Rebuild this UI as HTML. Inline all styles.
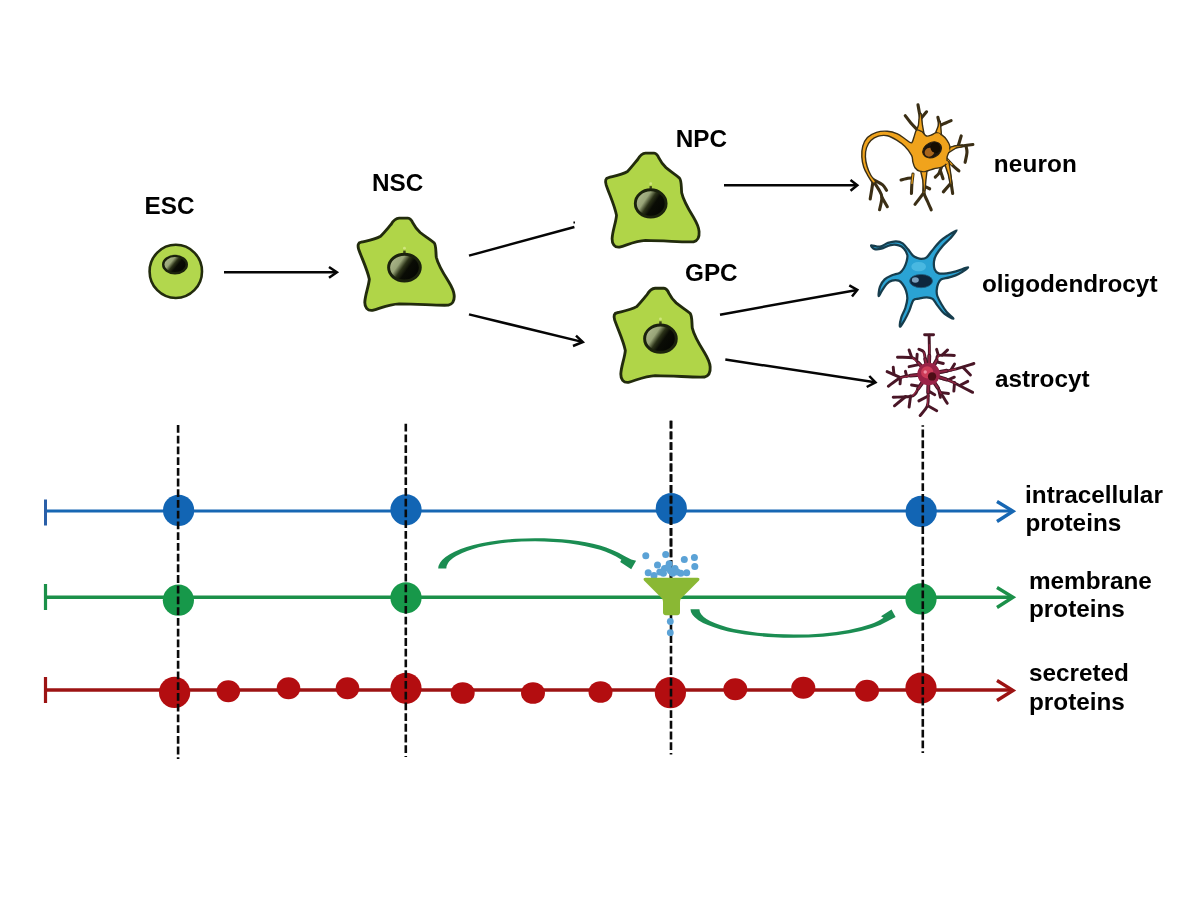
<!DOCTYPE html>
<html>
<head>
<meta charset="utf-8">
<style>
html,body{margin:0;padding:0;background:#fff;}
body{width:1200px;height:900px;overflow:hidden;font-family:"Liberation Sans",sans-serif;}
svg{display:block;position:absolute;left:0;top:0;}
text{font-family:"Liberation Sans",sans-serif;font-weight:bold;font-size:24.3px;fill:#000;}
</style>
</head>
<body>
<svg width="1200" height="900" viewBox="0 0 1200 900">
<defs>
  <radialGradient id="nuc" cx="0.66" cy="0.62" r="0.7">
    <stop offset="0" stop-color="#0a0d06"/>
    <stop offset="0.45" stop-color="#1c2312"/>
    <stop offset="0.8" stop-color="#6f7d55"/>
    <stop offset="1" stop-color="#8a9a60"/>
  </radialGradient>
  <filter id="soft" x="-5%" y="-5%" width="110%" height="110%"><feGaussianBlur stdDeviation="0.35"/></filter>
  <linearGradient id="nuc2" x1="0" y1="0.15" x2="1" y2="0.75">
    <stop offset="0" stop-color="#b3bd92"/>
    <stop offset="0.33" stop-color="#98a478"/>
    <stop offset="0.48" stop-color="#2b3218"/>
    <stop offset="0.62" stop-color="#0a0c05"/>
    <stop offset="1" stop-color="#040503"/>
  </linearGradient>
  <g id="cell">
    <!-- star-ish cell, local coords relative to NSC absolute position -->
    <path d="M398,219 L406.5,219 C409.5,219.3 410.5,221.5 411.5,224 C413.5,228 415.5,230.5 418.5,233.3 C423,237 428,240 432,243.5 C434.2,246 433.6,252 434.2,258 C436,266 441,274 446,282 C449,287 451.3,291 451.6,296 C452,301 450,305 446,306 C436,306.5 420,305 398,304.6 C388,305 380,309 372,311.2 C367,311.8 364.5,308 364.6,303 C365,295 368.5,287 369,280 C367,270 362,260 358.6,250 C357.5,246 358,243.6 361,243 C367,241.5 374,240.5 380,237 C384,233 387,229 390,225.5 C392,222 394,219.2 398,219 Z" fill="#b0d548" stroke="#222b0d" stroke-width="2.8" stroke-linejoin="round"/>
    <circle cx="403.2" cy="249" r="1.4" fill="#cfe67c"/><rect x="402" y="251.4" width="2.4" height="2.6" fill="#3a4418"/><ellipse cx="403.2" cy="268.4" rx="15.4" ry="13.4" fill="url(#nuc2)" stroke="#1b220d" stroke-width="2.9"/>
    
  </g>
</defs>
<rect width="1200" height="900" fill="#ffffff"/>


<!-- blue line -->
<g stroke="#1767b3" fill="none" stroke-width="3.1">
  <line x1="45.5" y1="511" x2="1011" y2="511"/>
  <line x1="45.5" y1="499.5" x2="45.5" y2="525.5" stroke="#2a5fa8" stroke-width="3"/>
  <polyline points="997,501.5 1013,511.2 997,521.5" stroke-width="3.4" stroke-linejoin="miter"/>
</g>
<g fill="#1265b4">
  <circle cx="178.6" cy="510.4" r="15.6"/>
  <circle cx="406" cy="509.8" r="15.6"/>
  <circle cx="671.3" cy="508.5" r="15.6"/>
  <circle cx="921.2" cy="511.4" r="15.6"/>
</g>

<!-- green line -->
<g stroke="#1b9049" fill="none" stroke-width="3.6">
  <line x1="45.5" y1="597.2" x2="1011" y2="597.2"/>
  <line x1="45.5" y1="584" x2="45.5" y2="610" stroke-width="3.2"/>
  <polyline points="997,587.5 1013,597.3 997,607.5" stroke-width="3.4"/>
</g>
<g fill="#17984a">
  <circle cx="178.4" cy="600.2" r="15.6"/>
  <circle cx="406" cy="597.8" r="15.6"/>
  <circle cx="921" cy="598.9" r="15.6"/>
</g>

<!-- red line -->
<g stroke="#9c1313" fill="none" stroke-width="3.6">
  <line x1="45.5" y1="690" x2="1011" y2="690"/>
  <line x1="45.5" y1="677" x2="45.5" y2="703" stroke-width="3.2"/>
  <polyline points="997,680.5 1013,690.4 997,700.5" stroke-width="3.4"/>
</g>
<g fill="#b30d10">
  <circle cx="174.6" cy="692.4" r="15.6"/>
  <circle cx="406" cy="688.3" r="15.6"/>
  <circle cx="670.4" cy="692.6" r="15.6"/>
  <circle cx="921" cy="688" r="15.6"/>
  <ellipse cx="228.3" cy="691.3" rx="11.8" ry="11"/>
  <ellipse cx="288.5" cy="688.2" rx="11.8" ry="11"/>
  <ellipse cx="347.5" cy="688.2" rx="11.8" ry="11"/>
  <ellipse cx="462.7" cy="693" rx="12" ry="10.8"/>
  <ellipse cx="533" cy="693" rx="12" ry="10.8"/>
  <ellipse cx="600.5" cy="692" rx="12" ry="10.8"/>
  <ellipse cx="735.3" cy="689.3" rx="12" ry="11"/>
  <ellipse cx="803.3" cy="687.8" rx="12" ry="11"/>
  <ellipse cx="867" cy="690.7" rx="12" ry="11"/>
</g>

<!-- dashed verticals -->
<g stroke="#0a0a0a" stroke-width="2.6" stroke-dasharray="7.8 2.92" fill="none">
  <line x1="178.1" y1="425" x2="178.1" y2="759"/>
  <line x1="405.8" y1="423.7" x2="405.8" y2="757"/>
  <line x1="671" y1="420.7" x2="671" y2="754.5"/>
  <line x1="922.8" y1="425.2" x2="922.8" y2="753" stroke-dashoffset="6.3"/>
</g>

<g opacity="0.999">
<!-- right labels -->
<text x="1025.1" y="503">intracellular</text>
<text x="1025.4" y="531">proteins</text>
<text x="1029" y="588.8">membrane</text>
<text x="1029" y="616.8">proteins</text>
<text x="1029" y="681.3">secreted</text>
<text x="1029" y="709.8">proteins</text>

<!-- top labels -->
<text x="144.5" y="214">ESC</text>
<text x="372" y="191">NSC</text>
<text x="675.7" y="147">NPC</text>
<text x="685" y="281">GPC</text>
<text x="993.8" y="171.7" letter-spacing="0.15">neuron</text>
<text x="982" y="292">oligodendrocyt</text>
<text x="995" y="387">astrocyt</text>
</g>

<!-- ESC cell -->
<g>
  <ellipse cx="175.8" cy="271.4" rx="26.2" ry="26.6" fill="#b2d74d" stroke="#222b0d" stroke-width="2.6"/>
  <ellipse cx="175" cy="264.6" rx="11.8" ry="8.7" fill="url(#nuc2)" stroke="#1b220d" stroke-width="2.4"/>
  
</g>
<use href="#cell" transform="translate(357,-0.8) scale(1.027,1) translate(-357,0)"/>
<use href="#cell" transform="translate(247.5,-65) translate(0,265) scale(1,1.02) translate(0,-265)"/>
<use href="#cell" transform="translate(256,70.2) translate(357,265) scale(1.027,1.02) translate(-357,-265)"/>

<g stroke="#050505" stroke-width="2.5" fill="none" stroke-linecap="butt" stroke-linejoin="miter">
  <line x1="224" y1="272.3" x2="336.5" y2="272.3"/>
  <polyline points="329,267 336.9,272.3 329,277.8"/>
  <line x1="469" y1="255.6" x2="574.4" y2="227"/>
  <line x1="574.2" y1="221.5" x2="574.2" y2="223.5" stroke-width="1.6"/>
  <line x1="469" y1="314.4" x2="582.2" y2="341.9"/>
  <polyline points="576,335.6 582.8,342 573,346"/>
  <line x1="724" y1="185.3" x2="857" y2="185.3"/>
  <polyline points="850.5,180 857.3,185.3 850.5,190.7"/>
  <line x1="720" y1="314.7" x2="857" y2="289.9"/>
  <polyline points="849.3,285.3 857.3,289.8 852,296.5"/>
  <line x1="725.3" y1="359.5" x2="875" y2="382.3"/>
  <polyline points="869.3,376 875.5,382.4 866.7,387"/>
</g>

<!-- curved green arrows -->
<g fill="#1b8d52" stroke="none">
  <path d="M438.2,568.6 A96.8,30.4 0 0 1 535,538.2 C560,538.2 582,540.5 600,545.5 C608,547.8 617,551.5 624.4,555.9 L631.2,559.6 L636.1,560.8 L631.2,569.3 L620.2,562 L621.4,559.8 C614,555.2 608,552.2 600,549.8 C582,544.5 560,541.3 535,541.2 A88.7,27.4 0 0 0 446.3,568.6 Z"/>
  <path d="M690.5,609.2 A103.2,28.6 0 0 0 793.7,637.8 A103.5,28.6 0 0 0 888,621 L895.6,617 L891.5,609.4 L881,616.3 L883.5,617.7 A95,25.4 0 0 1 793.7,634.6 A94.5,25.4 0 0 1 699.4,609.2 Z"/>
</g>
<!-- funnel -->
<g stroke="#0a0a0a" stroke-width="2.6" stroke-dasharray="7.8 2.92" fill="none"><line x1="671" y1="420.7" x2="671" y2="580"/></g>
<g fill="#5ba2d6"><circle cx="645.8" cy="555.7" r="3.5"/><circle cx="665.7" cy="554.5" r="3.5"/><circle cx="694.4" cy="557.5" r="3.5"/><circle cx="684.3" cy="559.6" r="3.5"/><circle cx="657.5" cy="565" r="3.5"/><circle cx="669.2" cy="563.8" r="3.5"/><circle cx="694.8" cy="566.6" r="3.5"/><circle cx="648.2" cy="572.7" r="3.5"/><circle cx="659.8" cy="572" r="3.5"/><circle cx="664.5" cy="568.5" r="3.5"/><circle cx="675" cy="568.5" r="3.5"/><circle cx="672.7" cy="573.2" r="3.5"/><circle cx="680.8" cy="573.2" r="3.5"/><circle cx="686.7" cy="572.7" r="3.5"/><circle cx="654" cy="575.5" r="3.5"/><circle cx="668" cy="567.3" r="3.5"/><circle cx="673.9" cy="570.8" r="3.5"/><circle cx="663.4" cy="573.2" r="3.5"/><circle cx="677.3" cy="572" r="3.5"/><circle cx="670.4" cy="570.8" r="3.5"/></g>
<path d="M645.5,577.8 L697.5,577.8 Q700.4,578 699,580.6 L681,598.6 Q680,600 680,602 L680,612.6 Q679.8,615.2 677.2,615.2 L665.8,615.2 Q663.2,615.2 663,612.6 L663,602 Q663,600 662,598.6 L644,580.6 Q642.6,578 645.5,577.8 Z" fill="#8ab834"/>
<g fill="#5ba2d6"><circle cx="670.3" cy="621.5" r="3.4"/><circle cx="670.3" cy="632.7" r="3.4"/></g>

<g filter="url(#soft)">
<!--NEURONS_START-->
<g transform="translate(850,90) scale(0.15556)">
<g fill="none" stroke="#3a2f14" stroke-width="20" stroke-linecap="round" stroke-linejoin="round">
<path d="M445.0,285.0 C446.7,270.8 455.0,224.2 455.0,200.0 C455.0,175.8 448.0,157.5 445.0,140.0 C442.0,122.5 438.3,102.5 437.0,95.0 "/>
<path d="M452.0,188.0 L492.0,140.0"/>
<path d="M432.0,255.0 C425.0,247.5 402.8,225.0 390.0,210.0 C377.2,195.0 360.8,172.5 355.0,165.0 "/>
<path d="M560.0,280.0 C562.5,271.7 574.2,247.5 575.0,230.0 C575.8,212.5 566.7,184.2 565.0,175.0 "/>
<path d="M578.0,228.0 C584.2,225.3 603.0,217.2 615.0,212.0 C627.0,206.8 644.2,199.5 650.0,197.0 "/>
<path d="M628.0,385.0 C636.7,381.7 664.7,369.2 680.0,365.0 C695.3,360.8 701.7,362.5 720.0,360.0 C738.3,357.5 778.3,351.7 790.0,350.0 "/>
<path d="M695.0,362.0 L715.0,295.0"/>
<path d="M745.0,358.0 C746.2,365.0 752.8,382.2 752.0,400.0 C751.2,417.8 742.0,454.2 740.0,465.0 "/>
<path d="M618.0,440.0 C625.0,447.5 646.3,471.7 660.0,485.0 C673.7,498.3 693.3,514.2 700.0,520.0 "/>
<path d="M622.0,470.0 C625.0,481.7 635.3,518.3 640.0,540.0 C644.7,561.7 646.7,579.2 650.0,600.0 C653.3,620.8 658.3,654.2 660.0,665.0 "/>
<path d="M648.0,600.0 L600.0,655.0"/>
<path d="M588.0,495.0 C585.3,501.7 578.7,524.2 572.0,535.0 C565.3,545.8 552.0,555.8 548.0,560.0 "/>
<path d="M580.0,515.0 L598.0,570.0"/>
<path d="M470.0,515.0 C471.3,529.2 477.2,575.8 478.0,600.0 C478.8,624.2 471.3,640.0 475.0,660.0 C478.7,680.0 492.2,701.7 500.0,720.0 C507.8,738.3 518.3,761.7 522.0,770.0 "/>
<path d="M475.0,660.0 C470.0,666.7 454.5,687.5 445.0,700.0 C435.5,712.5 422.5,729.2 418.0,735.0 "/>
<path d="M480.0,620.0 L512.0,635.0"/>
<path d="M405.0,540.0 C403.8,550.0 399.7,579.2 398.0,600.0 C396.3,620.8 395.5,654.2 395.0,665.0 "/>
<path d="M400.0,565.0 C393.3,565.8 372.0,567.8 360.0,570.0 C348.0,572.2 333.3,576.7 328.0,578.0 "/>
<path d="M148.0,585.0 C146.7,594.2 143.0,620.8 140.0,640.0 C137.0,659.2 131.7,690.0 130.0,700.0 "/>
<path d="M150.0,585.0 C155.8,594.2 175.8,622.5 185.0,640.0 C194.2,657.5 204.2,668.3 205.0,690.0 C205.8,711.7 192.5,756.7 190.0,770.0 "/>
<path d="M205.0,690.0 L240.0,750.0"/>
<path d="M158.0,580.0 C166.7,585.0 197.2,599.2 210.0,610.0 C222.8,620.8 230.8,639.2 235.0,645.0 "/>
</g>
<g fill="none" stroke="#f0a31c" stroke-width="8" stroke-linecap="round">
<path d="M445.0,290.0 C446.7,275.8 454.5,228.3 455.0,205.0 C455.5,181.7 449.2,159.2 448.0,150.0 "/>
<path d="M560.0,285.0 L574.0,235.0"/>
<path d="M628.0,385.0 L690.0,364.0"/>
<path d="M622.0,470.0 C625.0,481.7 635.3,518.3 640.0,540.0 C644.7,561.7 648.3,590.0 650.0,600.0 "/>
<path d="M470.0,515.0 C471.3,529.2 477.2,576.7 478.0,600.0 C478.8,623.3 475.5,645.8 475.0,655.0 "/>
<path d="M405.0,540.0 L398.0,600.0"/>
<path d="M618.0,440.0 L655.0,480.0"/>
</g>
<polygon points="422,278 440,225 447,150 457,150 466,228 476,282" fill="#f0a31c" stroke="#3a2f14" stroke-width="9" stroke-linejoin="round"/>
<polygon points="545,288 566,235 572,200 580,200 584,240 588,292" fill="#f0a31c" stroke="#3a2f14" stroke-width="9" stroke-linejoin="round"/>
<polygon points="452,512 468,580 472,650 482,650 488,580 496,512" fill="#f0a31c" stroke="#3a2f14" stroke-width="9" stroke-linejoin="round"/>
<polygon points="606,468 632,545 645,610 656,608 648,540 636,460" fill="#f0a31c" stroke="#3a2f14" stroke-width="9" stroke-linejoin="round"/>
<polygon points="628,372 680,358 722,354 722,364 682,373 634,402" fill="#f0a31c" stroke="#3a2f14" stroke-width="9" stroke-linejoin="round"/>
<path d="M146.0,596.0 C137.3,588.8 121.7,561.8 112.0,545.0 C102.3,528.2 94.0,514.2 88.0,495.0 C82.0,475.8 77.0,452.2 76.0,430.0 C75.0,407.8 76.0,382.7 82.0,362.0 C88.0,341.3 97.3,321.0 112.0,306.0 C126.7,291.0 148.7,278.8 170.0,272.0 C191.3,265.2 217.5,263.3 240.0,265.0 C262.5,266.7 285.8,273.7 305.0,282.0 C324.2,290.3 340.0,305.3 355.0,315.0 C370.0,324.7 385.5,342.5 395.0,340.0 C404.5,337.5 406.5,313.7 412.0,300.0 C417.5,286.3 419.7,263.3 428.0,258.0 C436.3,252.7 451.3,261.7 462.0,268.0 C472.7,274.3 480.7,293.0 492.0,296.0 C503.3,299.0 519.3,289.7 530.0,286.0 C540.7,282.3 545.7,273.3 556.0,274.0 C566.3,274.7 581.0,282.3 592.0,290.0 C603.0,297.7 613.7,308.0 622.0,320.0 C630.3,332.0 639.7,349.0 642.0,362.0 C644.3,375.0 639.0,386.3 636.0,398.0 C633.0,409.7 626.3,419.7 624.0,432.0 C621.7,444.3 627.7,461.3 622.0,472.0 C616.3,482.7 603.7,490.3 590.0,496.0 C576.3,501.7 556.7,501.7 540.0,506.0 C523.3,510.3 505.3,519.3 490.0,522.0 C474.7,524.7 460.0,525.7 448.0,522.0 C436.0,518.3 425.3,510.0 418.0,500.0 C410.7,490.0 407.7,475.3 404.0,462.0 C400.3,448.7 404.7,436.7 396.0,420.0 C387.3,403.3 368.0,378.3 352.0,362.0 C336.0,345.7 318.7,333.3 300.0,322.0 C281.3,310.7 259.7,298.2 240.0,294.0 C220.3,289.8 199.7,291.8 182.0,297.0 C164.3,302.2 146.7,312.5 134.0,325.0 C121.3,337.5 111.8,354.5 106.0,372.0 C100.2,389.5 98.3,410.0 99.0,430.0 C99.7,450.0 104.2,472.3 110.0,492.0 C115.8,511.7 125.0,532.0 134.0,548.0 C143.0,564.0 162.0,580.0 164.0,588.0 C166.0,596.0 154.7,603.2 146.0,596.0 Z" fill="#f0a31c" stroke="#3a2f14" stroke-width="9" stroke-linejoin="round"/>
<ellipse cx="449" cy="282" rx="17" ry="12" fill="#f0a31c"/>
<ellipse cx="567" cy="288" rx="13" ry="10" fill="#f0a31c"/>
<ellipse cx="474" cy="512" rx="14" ry="10" fill="#f0a31c"/>
<ellipse cx="621" cy="466" rx="9" ry="9" fill="#f0a31c"/>
<ellipse cx="632" cy="387" rx="8" ry="11" fill="#f0a31c"/>
<g transform="rotate(-28 528 385)"><ellipse cx="528" cy="385" rx="64" ry="48" fill="#1f1608" stroke="#2a2010" stroke-width="6"/><ellipse cx="506" cy="390" rx="32" ry="28" fill="#a8651a"/><ellipse cx="552" cy="382" rx="30" ry="34" fill="#120c05"/></g>
</g>
<g transform="translate(860,220) scale(0.13333)">
<path d="M85.0,190.0 C91.7,187.0 129.2,203.0 150.0,200.0 C170.8,197.0 190.0,178.7 210.0,172.0 C230.0,165.3 251.7,159.5 270.0,160.0 C288.3,160.5 305.0,165.0 320.0,175.0 C335.0,185.0 347.5,205.0 360.0,220.0 C372.5,235.0 383.3,254.2 395.0,265.0 C406.7,275.8 419.2,280.5 430.0,285.0 C440.8,289.5 448.3,292.8 460.0,292.0 C471.7,291.2 486.7,290.3 500.0,280.0 C513.3,269.7 523.3,250.0 540.0,230.0 C556.7,210.0 580.0,179.2 600.0,160.0 C620.0,140.8 639.2,128.7 660.0,115.0 C680.8,101.3 721.7,74.7 725.0,78.0 C728.3,81.3 697.5,115.5 680.0,135.0 C662.5,154.5 638.0,174.2 620.0,195.0 C602.0,215.8 582.8,240.8 572.0,260.0 C561.2,279.2 557.0,291.7 555.0,310.0 C553.0,328.3 554.2,355.0 560.0,370.0 C565.8,385.0 575.0,395.0 590.0,400.0 C605.0,405.0 628.3,402.5 650.0,400.0 C671.7,397.5 693.3,392.5 720.0,385.0 C746.7,377.5 806.7,351.7 810.0,355.0 C813.3,358.3 763.3,392.5 740.0,405.0 C716.7,417.5 691.7,423.3 670.0,430.0 C648.3,436.7 624.2,436.7 610.0,445.0 C595.8,453.3 590.8,465.8 585.0,480.0 C579.2,494.2 575.8,515.0 575.0,530.0 C574.2,545.0 574.2,553.3 580.0,570.0 C585.8,586.7 598.3,610.0 610.0,630.0 C621.7,650.0 635.0,671.7 650.0,690.0 C665.0,708.3 703.3,738.3 700.0,740.0 C696.7,741.7 650.0,716.7 630.0,700.0 C610.0,683.3 594.2,658.0 580.0,640.0 C565.8,622.0 558.3,602.0 545.0,592.0 C531.7,582.0 517.5,580.3 500.0,580.0 C482.5,579.7 456.7,586.3 440.0,590.0 C423.3,593.7 411.7,587.0 400.0,602.0 C388.3,617.0 380.8,655.3 370.0,680.0 C359.2,704.7 346.7,730.0 335.0,750.0 C323.3,770.0 304.2,803.3 300.0,800.0 C295.8,796.7 303.3,753.3 310.0,730.0 C316.7,706.7 332.5,683.3 340.0,660.0 C347.5,636.7 354.2,611.7 355.0,590.0 C355.8,568.3 350.8,548.0 345.0,530.0 C339.2,512.0 329.2,494.5 320.0,482.0 C310.8,469.5 303.3,459.5 290.0,455.0 C276.7,450.5 255.0,450.8 240.0,455.0 C225.0,459.2 212.5,467.5 200.0,480.0 C187.5,492.5 175.0,515.0 165.0,530.0 C155.0,545.0 142.5,575.0 140.0,570.0 C137.5,565.0 142.5,520.8 150.0,500.0 C157.5,479.2 170.0,459.2 185.0,445.0 C200.0,430.8 220.8,423.3 240.0,415.0 C259.2,406.7 285.0,404.2 300.0,395.0 C315.0,385.8 321.7,374.2 330.0,360.0 C338.3,345.8 345.8,326.3 350.0,310.0 C354.2,293.7 358.3,277.8 355.0,262.0 C351.7,246.2 340.8,227.0 330.0,215.0 C319.2,203.0 306.7,194.5 290.0,190.0 C273.3,185.5 251.7,183.8 230.0,188.0 C208.3,192.2 180.0,210.0 160.0,215.0 C140.0,220.0 122.5,222.2 110.0,218.0 C97.5,213.8 78.3,193.0 85.0,190.0 Z" fill="#2ca3d4" stroke="#183e4e" stroke-width="17" stroke-linejoin="round"/>
<ellipse cx="440" cy="350" rx="55" ry="35" fill="#5fc6ea" opacity="0.6"/>
<ellipse cx="458" cy="458" rx="86" ry="50" fill="#11263c" stroke="#1d5a7a" stroke-width="6"/>
<ellipse cx="415" cy="450" rx="26" ry="20" fill="#8fb6d4" opacity="0.85"/>
</g>
<g transform="translate(870,320) scale(0.12220)">
<g fill="none" stroke="#4a1728" stroke-width="24" stroke-linecap="round" stroke-linejoin="round">
<path d="M482.0,400.0 C482.7,376.7 485.7,305.8 486.0,260.0 C486.3,214.2 484.3,147.5 484.0,125.0 "/>
<path d="M447.0,121.0 L520.0,121.0"/>
<path d="M440.0,400.0 C432.5,391.7 410.0,365.0 395.0,350.0 C380.0,335.0 378.3,317.5 350.0,310.0 C321.7,302.5 245.8,305.8 225.0,305.0 "/>
<path d="M340.0,302.0 L320.0,245.0"/>
<path d="M382.0,332.0 L386.0,280.0"/>
<path d="M400.0,365.0 L320.0,382.0"/>
<path d="M462.0,385.0 C460.3,374.2 455.7,340.5 452.0,320.0 C448.3,299.5 448.7,275.3 440.0,262.0 C431.3,248.7 406.7,243.7 400.0,240.0 "/>
<path d="M520.0,392.0 C524.2,381.7 538.0,347.0 545.0,330.0 C552.0,313.0 537.8,296.7 562.0,290.0 C586.2,283.3 668.7,290.0 690.0,290.0 "/>
<path d="M560.0,292.0 L545.0,240.0"/>
<path d="M590.0,287.0 L635.0,245.0"/>
<path d="M540.0,342.0 L600.0,356.0"/>
<path d="M560.0,432.0 C583.3,427.0 651.7,414.7 700.0,402.0 C748.3,389.3 825.0,363.7 850.0,356.0 "/>
<path d="M762.0,388.0 L822.0,450.0"/>
<path d="M662.0,410.0 L692.0,360.0"/>
<path d="M560.0,470.0 C573.3,473.7 616.7,483.7 640.0,492.0 C663.3,500.3 666.7,503.3 700.0,520.0 C733.3,536.7 816.7,580.0 840.0,592.0 "/>
<path d="M742.0,532.0 L800.0,502.0"/>
<path d="M692.0,512.0 L686.0,582.0"/>
<path d="M640.0,490.0 L690.0,468.0"/>
<path d="M520.0,500.0 C525.8,509.2 544.7,538.0 555.0,555.0 C565.3,572.0 569.2,580.8 582.0,602.0 C594.8,623.2 623.7,668.7 632.0,682.0 "/>
<path d="M572.0,592.0 L642.0,602.0"/>
<path d="M560.0,560.0 L576.0,632.0"/>
<path d="M480.0,500.0 C479.3,516.7 477.7,566.7 476.0,600.0 C474.3,633.3 481.0,669.7 470.0,700.0 C459.0,730.3 420.0,768.3 410.0,782.0 "/>
<path d="M470.0,700.0 L546.0,742.0"/>
<path d="M476.0,622.0 L400.0,662.0"/>
<path d="M480.0,582.0 L530.0,612.0"/>
<path d="M440.0,492.0 C432.5,503.3 410.0,538.7 395.0,560.0 C380.0,581.3 384.2,608.0 350.0,620.0 C315.8,632.0 216.7,630.0 190.0,632.0 "/>
<path d="M292.0,626.0 L200.0,702.0"/>
<path d="M332.0,622.0 L320.0,712.0"/>
<path d="M402.0,542.0 L340.0,532.0"/>
<path d="M420.0,442.0 C405.0,444.2 358.3,450.0 330.0,455.0 C301.7,460.0 280.0,457.5 250.0,472.0 C220.0,486.5 166.7,530.3 150.0,542.0 "/>
<path d="M250.0,472.0 L140.0,422.0"/>
<path d="M196.0,446.0 L190.0,386.0"/>
<path d="M250.0,472.0 L246.0,522.0"/>
<path d="M300.0,460.0 L290.0,420.0"/>
</g>
<g fill="none" stroke="#9a2644" stroke-width="9" stroke-linecap="round" stroke-linejoin="round">
<path d="M482.0,400.0 C482.7,376.7 485.5,293.3 486.0,260.0 C486.5,226.7 485.2,210.0 485.0,200.0 "/>
<path d="M440.0,400.0 C432.5,391.7 410.0,365.0 395.0,350.0 C380.0,335.0 357.5,316.7 350.0,310.0 "/>
<path d="M462.0,385.0 C460.3,374.2 455.7,340.5 452.0,320.0 C448.3,299.5 442.0,271.7 440.0,262.0 "/>
<path d="M520.0,392.0 C524.2,381.7 538.0,347.0 545.0,330.0 C552.0,313.0 559.2,296.7 562.0,290.0 "/>
<path d="M560.0,432.0 L700.0,402.0"/>
<path d="M560.0,470.0 C573.3,473.7 616.7,483.7 640.0,492.0 C663.3,500.3 690.0,515.3 700.0,520.0 "/>
<path d="M520.0,500.0 C525.8,509.2 544.7,538.0 555.0,555.0 C565.3,572.0 577.5,594.2 582.0,602.0 "/>
<path d="M480.0,500.0 C479.3,516.7 477.7,566.7 476.0,600.0 C474.3,633.3 471.0,683.3 470.0,700.0 "/>
<path d="M440.0,492.0 C432.5,503.3 410.0,538.7 395.0,560.0 C380.0,581.3 357.5,610.0 350.0,620.0 "/>
<path d="M420.0,442.0 C405.0,444.2 358.3,450.0 330.0,455.0 C301.7,460.0 263.3,469.2 250.0,472.0 "/>
</g>
<g fill="none" stroke="#4a1728" stroke-width="32" stroke-linecap="round">
<path d="M481.3,402.0 L484.9,292.1"/>
<path d="M452.9,412.6 L395.0,350.0"/>
<path d="M471.1,403.0 L452.0,320.0"/>
<path d="M500.1,407.4 L545.0,330.0"/>
<path d="M519.4,434.8 L627.6,415.2"/>
<path d="M518.2,453.9 L623.2,486.7"/>
<path d="M502.1,475.3 L555.0,555.0"/>
<path d="M479.0,482.0 L476.2,592.0"/>
<path d="M456.6,474.5 L395.0,560.0"/>
<path d="M440.1,445.5 L330.6,455.0"/>
</g>
<g fill="none" stroke="#8e2442" stroke-width="15" stroke-linecap="round">
<path d="M481.3,402.0 L484.9,292.1"/>
<path d="M452.9,412.6 L395.0,350.0"/>
<path d="M471.1,403.0 L452.0,320.0"/>
<path d="M500.1,407.4 L545.0,330.0"/>
<path d="M519.4,434.8 L627.6,415.2"/>
<path d="M518.2,453.9 L623.2,486.7"/>
<path d="M502.1,475.3 L555.0,555.0"/>
<path d="M479.0,482.0 L476.2,592.0"/>
<path d="M456.6,474.5 L395.0,560.0"/>
<path d="M440.1,445.5 L330.6,455.0"/>
</g>
<circle cx="480" cy="442" r="92" fill="#9a2446"/>
<circle cx="468" cy="428" r="50" fill="#cc3a58"/>
<circle cx="508" cy="462" r="34" fill="#4d0d18"/>
<circle cx="452" cy="425" r="14" fill="#ee8aa0"/>
</g>
<!--NEURONS_END-->
</g>
</svg>
</body>
</html>
